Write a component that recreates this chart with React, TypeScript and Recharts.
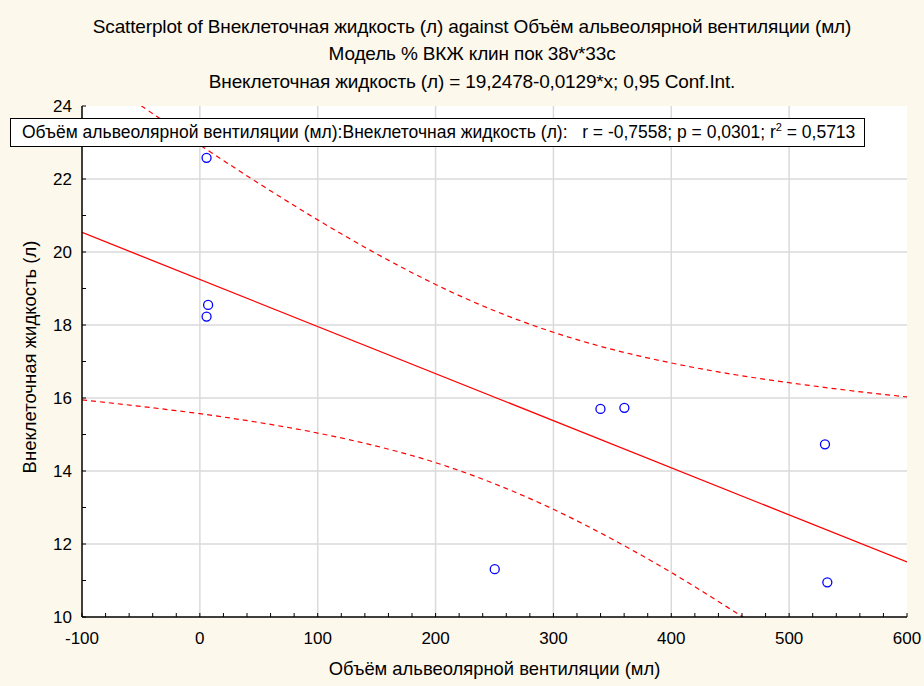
import { ComposedChart, Scatter, Line, XAxis, YAxis, CartesianGrid, Label } from "recharts"

// observations
const volumeMl = [5.7, 7.0, 5.7, 250.2, 339.9, 360.2, 530.4, 532.4]
const fluidL = [22.58, 18.55, 18.23, 11.31, 15.7, 15.73, 14.73, 10.95]

// fitted line: y = 19,2478 - 0,0129*x
const INTERCEPT = 19.2478
const SLOPE = -0.0129
const fitX = [-100, 600]

// 0,95 confidence band
const bandX = [-100, -50, 0, 50, 100, 150, 200, 250, 300, 350, 400, 450, 500, 550, 600]
const bandUpper = [25.13, 24.01, 22.93, 21.88, 20.88, 19.95, 19.11, 18.39, 17.8, 17.33, 16.96, 16.66, 16.42, 16.21, 16.03]
const bandLower = [15.95, 15.77, 15.57, 15.33, 15.04, 14.68, 14.23, 13.65, 12.95, 12.13, 11.22, 10.22, 9.18, 8.1, 6.99]

const xLabels = [-100, 0, 100, 200, 300, 400, 500, 600]
const yLabels = [10, 12, 14, 16, 18, 20, 22, 24]
const xTicks = Array.from({ length: 36 }, (_, i) => -100 + i * 20)
const yTicks = Array.from({ length: 15 }, (_, i) => 10 + i)

const points = volumeMl.map((x, i) => ({ x, y: fluidL[i] }))
const fitLine = fitX.map((x) => ({ x, y: INTERCEPT + SLOPE * x }))
const upper = bandX.map((x, i) => ({ x, y: bandUpper[i] }))
const lower = bandX.map((x, i) => ({ x, y: bandLower[i] }))

const FONT = '"Liberation Sans", Arial, sans-serif'
const axisStroke = { stroke: "#000", strokeWidth: 1.5 }

function XTick({ x, y, payload }: any) {
  if (!xLabels.includes(payload.value)) return <g />
  return (
    <text x={x} y={y} dy="0.71em" textAnchor="middle" fontSize={17} fill="#000" fontFamily={FONT}>
      {payload.value}
    </text>
  )
}

function YTick({ x, y, payload }: any) {
  if (!yLabels.includes(payload.value)) return <g />
  return (
    <text x={x} y={y} dy="0.35em" textAnchor="end" fontSize={17} fill="#000" fontFamily={FONT}>
      {payload.value}
    </text>
  )
}

function Ring({ cx, cy }: any) {
  return <circle cx={cx} cy={cy} r={4.5} fill="none" stroke="#0000ff" strokeWidth={1.3} />
}

function YTitle() {
  const cx = 30
  const cy = 357
  return (
    <text x={cx} y={cy} dy="0.35em" textAnchor="middle" fontSize={18.5} fill="#000" fontFamily={FONT}
      transform={`rotate(-90, ${cx}, ${cy})`}>
      Внеклеточная жидкость (л)
    </text>
  )
}

const titles = [
  "Scatterplot of Внеклеточная жидкость (л) against Объём альвеолярной вентиляции (мл)",
  "Модель % ВКЖ клин пок 38v*33c",
  "Внеклеточная жидкость (л) = 19,2478-0,0129*x; 0,95 Conf.Int.",
]
const titleY = [17, 44, 72]

export default function App() {
  return (
    <div style={{ position: "absolute", left: 0, top: 0, width: 924, height: 686, background: "#fdf8ec", fontFamily: FONT }}>
      {titles.map((t, i) => (
        <div key={i} style={{ position: "absolute", left: 0, top: titleY[i], width: 944, textAlign: "center", fontSize: 19, letterSpacing: -0.15, lineHeight: "20px", color: "#000" }}>
          {t}
        </div>
      ))}
      <ComposedChart width={924} height={686} margin={{ top: 106, right: 17, bottom: 0, left: 0 }} style={{ position: "absolute", left: 0, top: 0 }}>
        <CartesianGrid fill="#fff" stroke="#dadada" strokeWidth={1.5}
          verticalValues={[0, 100, 200, 300, 400, 500]} horizontalValues={[12, 14, 16, 18, 20, 22]} />
        <XAxis dataKey="x" type="number" domain={[-100, 600]} ticks={xTicks} interval={0} allowDataOverflow
          height={69} tickSize={-4} tickMargin={19} axisLine={axisStroke} tickLine={{ stroke: "#000" }} tick={<XTick />}>
          <Label value="Объём альвеолярной вентиляции (мл)" position="insideBottom" offset={11} fontSize={18.4} fill="#000" fontFamily={FONT} />
        </XAxis>
        <XAxis xAxisId="top" orientation="top" type="number" domain={[-100, 600]} ticks={xTicks} interval={0} allowDataOverflow
          height={0} tickSize={-4} axisLine={axisStroke} tickLine={{ stroke: "#000" }} tick={() => <g />} />
        <YAxis type="number" domain={[10, 24]} ticks={yTicks} interval={0} allowDataOverflow
          width={82} tickSize={-4} tickMargin={14} axisLine={axisStroke} tickLine={{ stroke: "#000" }} tick={<YTick />}>
          <Label content={<YTitle />} />
        </YAxis>
        <YAxis yAxisId="right" orientation="right" type="number" domain={[10, 24]} ticks={yTicks} interval={0} allowDataOverflow
          width={0} tickSize={-4} axisLine={axisStroke} tickLine={{ stroke: "#000" }} tick={() => <g />} />
        <Line data={upper} dataKey="y" type="monotone" stroke="#ff0000" strokeWidth={1.2} strokeDasharray="5 4" dot={false} isAnimationActive={false} />
        <Line data={lower} dataKey="y" type="monotone" stroke="#ff0000" strokeWidth={1.2} strokeDasharray="5 4" dot={false} isAnimationActive={false} />
        <Line data={fitLine} dataKey="y" type="linear" stroke="#ff0000" strokeWidth={1.3} dot={false} isAnimationActive={false} />
        <Scatter data={points} dataKey="y" shape={<Ring />} isAnimationActive={false} />
      </ComposedChart>
      <div style={{ position: "absolute", left: 10, top: 118, width: 842, height: 27, border: "1.5px solid #000", background: "#fff", fontSize: 17.5, lineHeight: "27px", paddingLeft: 11, whiteSpace: "pre", color: "#000", boxSizing: "content-box" }}>
        {"Объём альвеолярной вентиляции (мл):Внеклеточная жидкость (л):   r = -0,7558; p = 0,0301; r"}
        <sup style={{ fontSize: 11, lineHeight: 0 }}>2</sup>
        {" = 0,5713"}
      </div>
    </div>
  )
}
